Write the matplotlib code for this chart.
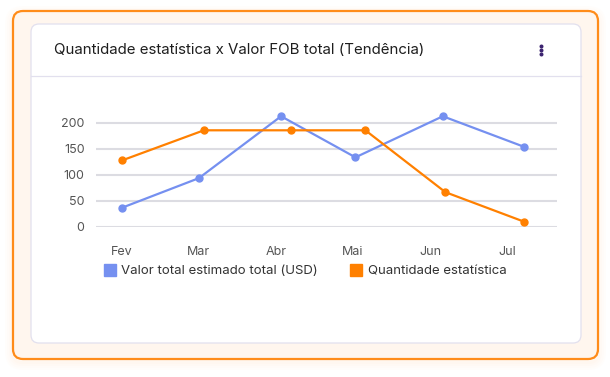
import matplotlib
matplotlib.use("Agg")
import matplotlib.pyplot as plt
from matplotlib.patches import FancyBboxPatch
from matplotlib.lines import Line2D
import pandas as pd

plt.rcParams['font.family'] = ['Inter', 'DejaVu Sans']

meses = ["Fev", "Mar", "Abr", "Mai", "Jun", "Jul"]

# datas dos pontos (eixo temporal)
datas_valor = ["2023-02-01", "2023-03-01", "2023-04-03", "2023-05-02", "2023-06-06", "2023-07-08"]
valor_usd = [36, 93, 212, 133, 212, 153]

datas_qtd = ["2023-02-01", "2023-03-03", "2023-04-07", "2023-05-06", "2023-06-07", "2023-07-08"]
qtd_estatistica = [127, 185, 185, 185, 66, 9]

titulo = "Quantidade estatística x Valor FOB total (Tendência)"
nome_valor = "Valor total estimado total (USD)"
nome_qtd = "Quantidade estatística"

azul = "#7590F0"
laranja = "#FF8000"


def pos_mes(datas):
    ts = pd.to_datetime(pd.Series(datas))
    return (ts.dt.month - 2 + (ts.dt.day - 1) / ts.dt.days_in_month).tolist()


fig = plt.figure(figsize=(6.1, 3.77), dpi=100)

# fundo / cartão
bg = fig.add_axes([0, 0, 1, 1], zorder=0)
bg.set_xlim(0, 610)
bg.set_ylim(377, 0)
bg.axis("off")
for i, a in enumerate([0.05, 0.05, 0.06, 0.08]):
    pad = 8 - 2 * i
    bg.add_patch(FancyBboxPatch((13 - pad, 11 - pad + 3), 585 + 2 * pad, 348 + 2 * pad,
                                boxstyle="round,pad=0,rounding_size=%d" % (10 + pad),
                                fc="#FFE2C4", ec="none", alpha=a))
bg.add_patch(FancyBboxPatch((13, 11), 585, 348, boxstyle="round,pad=0,rounding_size=10",
                            fc="#FFF6EE", ec="#FF8C1A", lw=1.6))
bg.add_patch(FancyBboxPatch((31, 24), 550, 319, boxstyle="round,pad=0,rounding_size=8",
                            fc="white", ec="#E2E0EE", lw=0.9))
bg.plot([31, 581], [76, 76], color="#E2E0EE", lw=0.9)
bg.text(54, 50, titulo, fontsize=10.8, color="#1E1E1E", va="center", ha="left")
bg.scatter([541, 541, 541], [46, 50, 54], s=3.5, color="#3B2370", zorder=3)

# gráfico
ax = fig.add_axes([95.7 / 610, 1 - 226.5 / 377, 461 / 610, (226.5 - 112.1) / 377], zorder=2)
ax.patch.set_alpha(0)
ax.set_xlim(-0.34, 5.645)
ax.set_ylim(0, 220)
ax.set_yticks([0, 50, 100, 150, 200])
ax.set_xticks(range(len(meses)))
ax.set_xticklabels(meses)
ax.yaxis.grid(True, color="#DCDCE2", lw=1.5)
ax.set_axisbelow(True)
for s in ax.spines.values():
    s.set_visible(False)
ax.tick_params(length=0, labelsize=9, labelcolor="#555555")
ax.tick_params(axis="x", pad=14)
ax.tick_params(axis="y", pad=8)

ax.plot(pos_mes(datas_valor), valor_usd, color=azul, lw=1.6, marker="o", ms=5, clip_on=False)
ax.plot(pos_mes(datas_qtd), qtd_estatistica, color=laranja, lw=1.6, marker="o", ms=5, clip_on=False)

handles = [Line2D([], [], ls="none", marker="s", ms=9, color=azul),
           Line2D([], [], ls="none", marker="s", ms=9, color=laranja)]
fig.legend(handles, [nome_valor, nome_qtd], ncol=2, loc="center", bbox_to_anchor=(305 / 610, 1 - 271 / 377),
           frameon=False, fontsize=9.5, handletextpad=0.35, columnspacing=2.4, handlelength=1.0,
           labelcolor="#333333")

fig.savefig("out.png", dpi=100)
